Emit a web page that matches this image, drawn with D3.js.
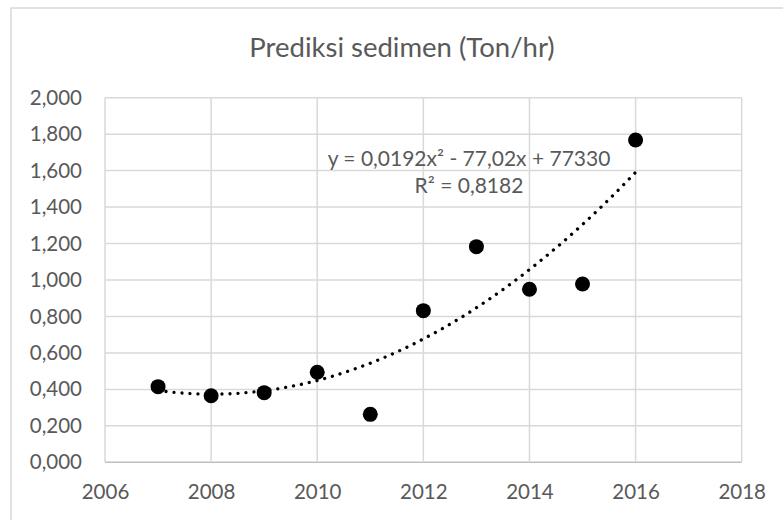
<!DOCTYPE html>
<html>
<head>
<meta charset="utf-8">
<script src="https://cdn.jsdelivr.net/npm/d3@7"></script>
<style>
  body { margin: 0; background: #fff; }
  svg text { font-family: Lato, "Open Sans", sans-serif; fill: #595959; }
</style>
</head>
<body>
<div id="chart"></div>
<script>
const years = [2007, 2008, 2009, 2010, 2011, 2012, 2013, 2014, 2015, 2016]
const sediment = [0.415, 0.365, 0.382, 0.494, 0.263, 0.832, 1.183, 0.949, 0.978, 1.768]
const xTicks = [2006, 2008, 2010, 2012, 2014, 2016, 2018]
const yTicks = [0, 0.2, 0.4, 0.6, 0.8, 1.0, 1.2, 1.4, 1.6, 1.8, 2.0]
const title = 'Prediksi sedimen (Ton/hr)'
const equation = ['y = 0,0192x² - 77,02x + 77330', 'R² = 0,8182']

const width = 783
const height = 520
const margin = { top: 97.7, right: 41.3, bottom: 57.7, left: 105 }

const svg = d3.select('#chart')
  .append('svg')
  .attr('width', width)
  .attr('height', height)

// outer chart border (only top/left edges are in frame)
svg.append('rect')
  .attr('x', 11)
  .attr('y', 8)
  .attr('width', width)
  .attr('height', height)
  .attr('fill', 'none')
  .attr('stroke', '#d9d9d9')
  .attr('stroke-width', 1.5)

const x = d3.scaleLinear()
  .domain([2006, 2018])
  .range([margin.left, width - margin.right])

const y = d3.scaleLinear()
  .domain([0, 2])
  .range([height - margin.bottom, margin.top])

const fmt = (v) => v.toFixed(3).replace('.', ',')

// gridlines
svg.append('g')
  .attr('class', 'grid-y')
  .selectAll('line')
  .data(yTicks)
  .enter()
  .append('line')
  .attr('x1', x(2006))
  .attr('x2', x(2018))
  .attr('y1', (d) => y(d))
  .attr('y2', (d) => y(d))
  .attr('stroke', (d) => d === 0 ? '#bfbfbf' : '#d9d9d9')
  .attr('stroke-width', 1.5)

svg.append('g')
  .attr('class', 'grid-x')
  .selectAll('line')
  .data(xTicks)
  .enter()
  .append('line')
  .attr('x1', (d) => x(d))
  .attr('x2', (d) => x(d))
  .attr('y1', y(0))
  .attr('y2', y(2))
  .attr('stroke', '#d9d9d9')
  .attr('stroke-width', 1.5)

// axes (labels only)
const yAxis = svg.append('g')
  .attr('transform', `translate(${x(2006)},0)`)
  .call(d3.axisLeft(y).tickValues(yTicks).tickFormat(fmt).tickSize(0).tickPadding(23))
yAxis.select('.domain').remove()
yAxis.selectAll('text')
  .style('font-size', '20.5px')
  .attr('fill', '#595959')

const xAxis = svg.append('g')
  .attr('transform', `translate(0,${y(0)})`)
  .call(d3.axisBottom(x).tickValues(xTicks).tickFormat(d3.format('d')).tickSize(0).tickPadding(22))
xAxis.select('.domain').remove()
xAxis.selectAll('text')
  .style('font-size', '20.5px')
  .attr('fill', '#595959')

// title
svg.append('text')
  .attr('x', 402)
  .attr('y', 57)
  .attr('text-anchor', 'middle')
  .style('font-size', '27.5px')
  .text(title)

// quadratic least squares trendline
const x0 = d3.mean(years)
const sums = [0, 0, 0, 0, 0]
const rhs = [0, 0, 0]
years.forEach((yr, i) => {
  const t = yr - x0
  for (let k = 0; k < 5; k++) sums[k] += Math.pow(t, k)
  for (let k = 0; k < 3; k++) rhs[k] += Math.pow(t, k) * sediment[i]
})
const M = [
  [sums[0], sums[1], sums[2], rhs[0]],
  [sums[1], sums[2], sums[3], rhs[1]],
  [sums[2], sums[3], sums[4], rhs[2]]
]
for (let c = 0; c < 3; c++) {
  for (let r = 0; r < 3; r++) {
    if (r === c) continue
    const f = M[r][c] / M[c][c]
    for (let k = c; k < 4; k++) M[r][k] -= f * M[c][k]
  }
}
const coef = [M[0][3] / M[0][0], M[1][3] / M[1][1], M[2][3] / M[2][2]]
const fit = (yr) => coef[0] + coef[1] * (yr - x0) + coef[2] * (yr - x0) * (yr - x0)
const trendX = d3.range(2007, 2016.001, 0.05)

svg.append('path')
  .datum(trendX)
  .attr('d', d3.line().x((d) => x(d)).y((d) => y(fit(d))))
  .attr('fill', 'none')
  .attr('stroke', '#000')
  .attr('stroke-width', 3.3)
  .attr('stroke-linecap', 'round')
  .attr('stroke-dasharray', '0.01 8')

// points
svg.append('g')
  .selectAll('circle')
  .data(years)
  .enter()
  .append('circle')
  .attr('cx', (d) => x(d))
  .attr('cy', (d, i) => y(sediment[i]))
  .attr('r', 7.5)
  .attr('fill', '#000')

// trendline label
svg.append('g')
  .selectAll('text')
  .data(equation)
  .enter()
  .append('text')
  .attr('x', 469)
  .attr('y', (d, i) => 166 + i * 27)
  .attr('text-anchor', 'middle')
  .style('font-size', '21px')
  .text((d) => d)
</script>
</body>
</html>
